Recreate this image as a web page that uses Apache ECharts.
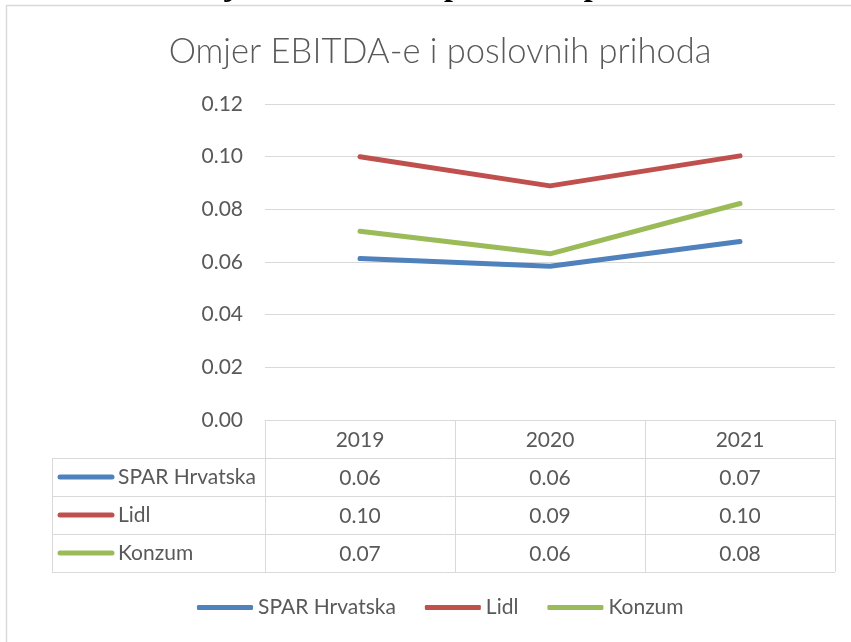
<!DOCTYPE html>
<html>
<head>
<meta charset="utf-8">
<title>Omjer EBITDA-e i poslovnih prihoda</title>
<script src="https://cdn.jsdelivr.net/npm/echarts@6/dist/echarts.min.js"></script>
<style>
	html, body { margin: 0; padding: 0; background: #fff; }
	#main { width: 851px; height: 642px; }
</style>
</head>
<body>
<div id="main"></div>
<script>
/**
 * 数据
 */
var years = [ '2019', '2020', '2021' ];
var seriesNames = [ 'SPAR Hrvatska', 'Lidl', 'Konzum' ];
var sparValues = [ 0.0613, 0.0584, 0.0678 ];
var lidlValues = [ 0.1000, 0.0889, 0.1003 ];
var konzumValues = [ 0.0717, 0.0631, 0.0822 ];
var yMin = 0, yMax = 0.12, yStep = 0.02;

/**
 * 样式
 */
var colors = [ '#4f81bd', '#c0504d', '#9bbb59' ];
var textColor = '#595959';
var lineColor = '#d9d9d9';
var fontFamily = 'Lato, "Open Sans", sans-serif';
var gridLeft = 265, gridRight = 16, gridTop = 104, gridBottom = 222;
var rowHeight = 38; // 数据表行高
var tableLeft = 52;

var allValues = [ sparValues, lidlValues, konzumValues ];
var myChart = echarts.init(document.getElementById('main'));

var option = {
	animation : false,
	color : colors,
	title : {
		text : 'Omjer EBITDA-e i poslovnih prihoda',
		left : 435,
		textAlign : 'center',
		top : 29,
		textStyle : {
			color : textColor,
			fontFamily : fontFamily,
			fontWeight : 300,
			fontSize : 34.5
		}
	},
	legend : {
		data : seriesNames,
		icon : 'roundRect',
		itemWidth : 56,
		itemHeight : 5,
		itemGap : 29,
		left : 197,
		top : 597,
		padding : 0,
		textStyle : {
			color : textColor,
			fontFamily : fontFamily,
			fontSize : 21
		}
	},
	grid : {
		left : gridLeft,
		right : gridRight,
		top : gridTop,
		bottom : gridBottom
	},
	xAxis : {
		type : 'category',
		data : years,
		boundaryGap : true,
		axisLine : { show : true, lineStyle : { color : lineColor } },
		axisTick : { show : false },
		// 标签：年份 + 每个系列的数值（数据表）
		axisLabel : {
			margin : 1,
			color : textColor,
			fontFamily : fontFamily,
			fontSize : 21,
			lineHeight : rowHeight,
			formatter : function(value, idx) {
				var lines = [ value ];
				allValues.forEach(function(arr) {
					lines.push(arr[idx].toFixed(2));
				});
				return lines.join('\n');
			}
		}
	},
	yAxis : {
		type : 'value',
		min : yMin,
		max : yMax,
		interval : yStep,
		axisLine : { show : false },
		axisTick : { show : false },
		axisLabel : {
			margin : 22,
			color : textColor,
			fontFamily : fontFamily,
			fontSize : 21,
			formatter : function(v) {
				return v.toFixed(2);
			}
		},
		splitLine : { lineStyle : { color : lineColor } }
	},
	series : seriesNames.map(function(name, i) {
		return {
			name : name,
			type : 'line',
			data : allValues[i],
			symbol : 'none',
			lineStyle : { width : 5, cap : 'round', join : 'round' }
		};
	})
};
myChart.setOption(option);

/**
 * 数据表的横线、竖线和行标题
 */
var axisY = myChart.convertToPixel({ yAxisIndex : 0 }, yMin);
var tableRight = 851 - gridRight;
var tableBottom = axisY + rowHeight * (seriesNames.length + 1);
var graphics = [];
// 图表外框
graphics.push({
	type : 'rect',
	z : -1,
	shape : { x : 6.5, y : 5.5, width : 900, height : 700 },
	style : { fill : null, stroke : lineColor, lineWidth : 1.5 }
});
// 被截断的图注
graphics.push({
	type : 'text',
	x : 173,
	y : -29,
	style : {
		text : 'Omjer EBITDA-e i poslovnih prihoda',
		fill : '#000',
		font : 'bold 32px "Liberation Serif", serif'
	}
});
for (var k = 1; k <= seriesNames.length + 1; k++) {
	var y = Math.round(axisY + rowHeight * k) + 0.5;
	graphics.push({
		type : 'line',
		shape : { x1 : tableLeft, y1 : y, x2 : tableRight, y2 : y },
		style : { stroke : lineColor, lineWidth : 1 }
	});
}
// 列分隔线：取类目之间的边界
var bandWidth = myChart.convertToPixel({ xAxisIndex : 0 }, years[1])
		- myChart.convertToPixel({ xAxisIndex : 0 }, years[0]);
var colLines = [ tableLeft ];
years.forEach(function(yr) {
	colLines.push(myChart.convertToPixel({ xAxisIndex : 0 }, yr) - bandWidth / 2);
});
colLines.push(tableRight);
colLines.forEach(function(x, i) {
	var xx = Math.round(x) + 0.5;
	graphics.push({
		type : 'line',
		shape : { x1 : xx, y1 : i === 0 ? axisY + rowHeight : axisY, x2 : xx, y2 : tableBottom },
		style : { stroke : lineColor, lineWidth : 1 }
	});
});
seriesNames.forEach(function(name, i) {
	var cy = axisY + rowHeight * (i + 1.5);
	graphics.push({
		type : 'line',
		shape : { x1 : 60, y1 : cy, x2 : 112, y2 : cy },
		style : { stroke : colors[i], lineWidth : 5, lineCap : 'round' }
	});
	graphics.push({
		type : 'text',
		x : 118,
		y : cy,
		style : {
			text : name,
			fill : textColor,
			font : '21px ' + fontFamily,
			textAlign : 'left',
			textVerticalAlign : 'middle'
		}
	});
});
myChart.setOption({ graphic : graphics });
</script>
</body>
</html>
